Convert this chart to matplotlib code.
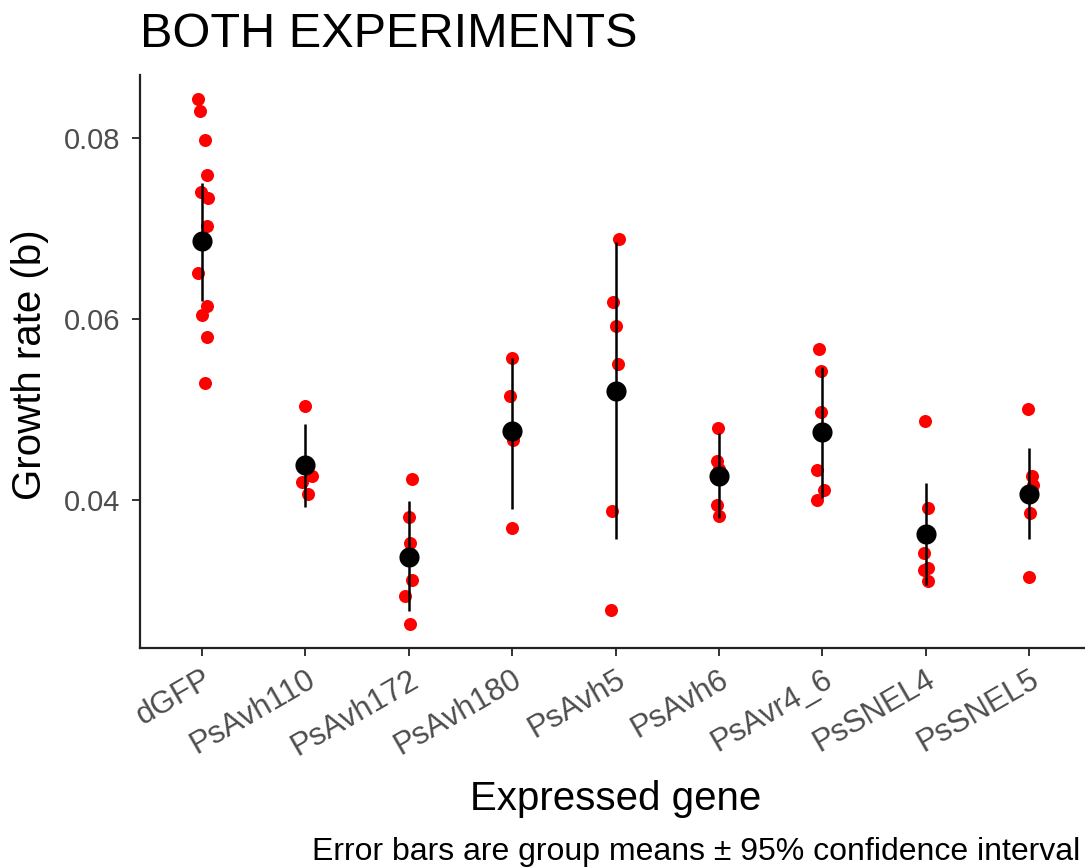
import matplotlib
matplotlib.use("Agg")
import matplotlib.pyplot as plt

plt.rcParams["font.family"] = ["Liberation Sans", "DejaVu Sans"]

genes = ["dGFP", "PsAvh110", "PsAvh172", "PsAvh180", "PsAvh5",
         "PsAvh6", "PsAvr4_6", "PsSNEL4", "PsSNEL5"]

# individual growth rates per gene
growth = [
    [0.0843, 0.0830, 0.0798, 0.0759, 0.0740, 0.0734, 0.0703, 0.0651, 0.0614, 0.0604, 0.0580, 0.0529],
    [0.0504, 0.0426, 0.0420, 0.0407],
    [0.0423, 0.0381, 0.0353, 0.0312, 0.0294, 0.0263],
    [0.0557, 0.0515, 0.0466, 0.0369],
    [0.0688, 0.0619, 0.0592, 0.0550, 0.0388, 0.0278],
    [0.0480, 0.0443, 0.0434, 0.0395, 0.0382],
    [0.0567, 0.0543, 0.0497, 0.0433, 0.0411, 0.0400],
    [0.0487, 0.0391, 0.0341, 0.0325, 0.0323, 0.0311],
    [0.0501, 0.0427, 0.0417, 0.0386, 0.0315],
]
# horizontal jitter of each point (category units)
jitter = [
    [-0.04, -0.02, 0.03, 0.05, -0.01, 0.06, 0.05, -0.04, 0.05, 0.0, 0.05, 0.03],
    [0.0, 0.06, -0.03, 0.03],
    [0.03, 0.0, 0.01, 0.03, -0.04, 0.01],
    [0.0, -0.02, 0.01, 0.0],
    [0.03, -0.02, 0.0, 0.02, -0.03, -0.04],
    [-0.01, -0.02, 0.0, -0.02, 0.0],
    [-0.03, -0.01, -0.01, -0.05, 0.02, -0.05],
    [-0.01, 0.02, -0.02, 0.02, -0.02, 0.02],
    [-0.01, 0.03, 0.04, 0.01, 0.0],
]
means = [0.0686, 0.0439, 0.0337, 0.0476, 0.0520, 0.0427, 0.0475, 0.0363, 0.0407]
ci_low = [0.0620, 0.0392, 0.0277, 0.0390, 0.0357, 0.0380, 0.0402, 0.0306, 0.0357]
ci_high = [0.0750, 0.0484, 0.0399, 0.0557, 0.0685, 0.0474, 0.0547, 0.0419, 0.0457]

W, H = 1085, 867
fig = plt.figure(figsize=(W / 100, H / 100), dpi=100)
ax = fig.add_axes([140 / W, 219 / H, 951 / W, 573 / H])

for i, (vals, jit) in enumerate(zip(growth, jitter)):
    ax.scatter([i + j for j in jit], vals, s=88, color="#FF0000",
               linewidths=0, zorder=2)

xs = range(len(genes))
ax.vlines(xs, ci_low, ci_high, color="black", linewidth=1.8, zorder=3)
ax.scatter(xs, means, s=210, color="black", linewidths=0, zorder=4)

ax.set_xlim(-0.6, len(genes) - 0.4)
ax.set_ylim(0.02365, 0.08696)
ax.set_yticks([0.04, 0.06, 0.08])
ax.set_yticklabels(["0.04", "0.06", "0.08"])
ax.set_xticks(list(xs))
ax.set_xticklabels(genes, rotation=30, ha="right", rotation_mode="anchor")

for side in ["top", "right"]:
    ax.spines[side].set_visible(False)
for side in ["left", "bottom"]:
    ax.spines[side].set_linewidth(1.6)
    ax.spines[side].set_color("#222222")
ax.tick_params(length=6, width=1.4, color="#333333",
               labelcolor="#4D4D4D")
ax.tick_params(axis="y", labelsize=21, pad=8)
ax.tick_params(axis="x", labelsize=22.5, pad=6)

fig.text(140 / W, 1 - 47 / H, "BOTH EXPERIMENTS", fontsize=35,
         ha="left", va="baseline")
fig.text(30 / W, 1 - 365 / H, "Growth rate (b)", fontsize=29,
         rotation=90, ha="center", va="center")
fig.text(616 / W, 1 - 810 / H, "Expressed gene", fontsize=29,
         ha="center", va="baseline")
fig.text(312 / W, 1 - 860 / H,
         "Error bars are group means \u00b1 95% confidence interval",
         fontsize=23, ha="left", va="baseline")

fig.savefig("out.png", dpi=100)
